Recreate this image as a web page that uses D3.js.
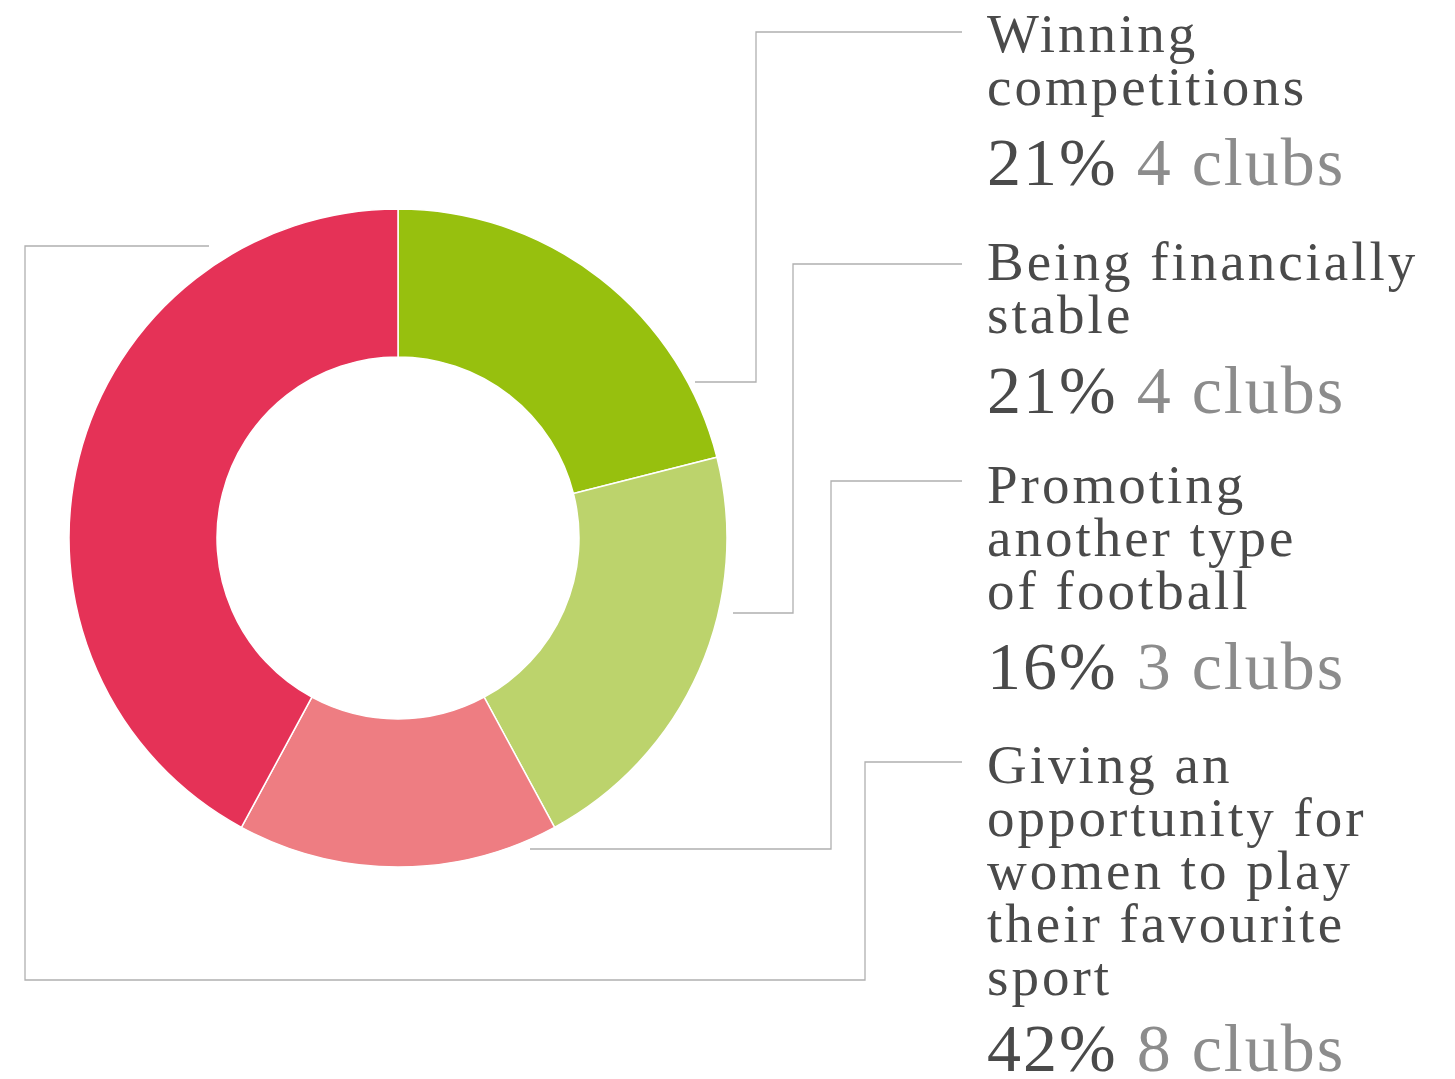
<!DOCTYPE html>
<html><head><meta charset="utf-8">
<script src="https://cdn.jsdelivr.net/npm/d3@7"></script>
<style>html,body{margin:0;padding:0;background:#fff;}svg{display:block;}</style>
</head><body>
<svg id="chart" width="1455" height="1079"></svg>
<script>
const categories = [
  ["Winning", "competitions"],
  ["Being financially", "stable"],
  ["Promoting", "another type", "of football"],
  ["Giving an", "opportunity for", "women to play", "their favourite", "sport"]
];
const clubs = [4, 4, 3, 8];
const percents = ["21%", "21%", "16%", "42%"];
const colors = ["#97c00e", "#bcd36c", "#ee7d82", "#e53257"];

const svg = d3.select("#chart");
const cx = 398, cy = 538, rOut = 329, rIn = 181;
const FONT = "'Liberation Serif', serif";

const pie = d3.pie().sort(null).value(d => d)(clubs);
const arc = d3.arc().innerRadius(rIn).outerRadius(rOut);
const g = svg.append("g").attr("transform", `translate(${cx},${cy})`);
g.selectAll("path").data(pie).join("path")
  .attr("d", arc).attr("fill", (d, i) => colors[i])
  .attr("stroke", "#fff").attr("stroke-width", 1.5);

// label layout
const textX = 987, lineH = 53;
const blockTop = [52, 280, 503, 783];   // first baseline of each label
// leader routes
const routes = [
  [[695, 382], [756, 382], [756, 32], [962, 32]],
  [[733, 613], [793, 613], [793, 264], [962, 264]],
  [[530, 849], [831, 849], [831, 481], [962, 481]],
  [[209, 246], [25, 246], [25, 980], [865, 980], [865, 762], [962, 762]]
];
const line = d3.line();
svg.selectAll("path.leader").data(routes).join("path")
  .attr("class", "leader").attr("d", line)
  .attr("fill", "none").attr("stroke", "#b0b0b0").attr("stroke-width", 1.3);

categories.forEach((lines, i) => {
  lines.forEach((t, j) => {
    svg.append("text").attr("x", textX).attr("y", blockTop[i] + j * lineH)
      .attr("font-family", FONT).attr("font-size", 55).attr("fill", "#4a4a4a")
      .attr("letter-spacing", 3)
      .text(t);
  });
  const y = blockTop[i] + (lines.length - 1) * lineH + 80;
  const tx = svg.append("text").attr("x", textX).attr("y", Math.min(y, 1071))
    .attr("font-family", FONT).attr("font-size", 68).attr("letter-spacing", 2);
  tx.append("tspan").attr("fill", "#4a4a4a").text(percents[i] + " ");
  tx.append("tspan").attr("fill", "#8c8c8c").text(clubs[i] + " clubs");
});
</script>
</body></html>
